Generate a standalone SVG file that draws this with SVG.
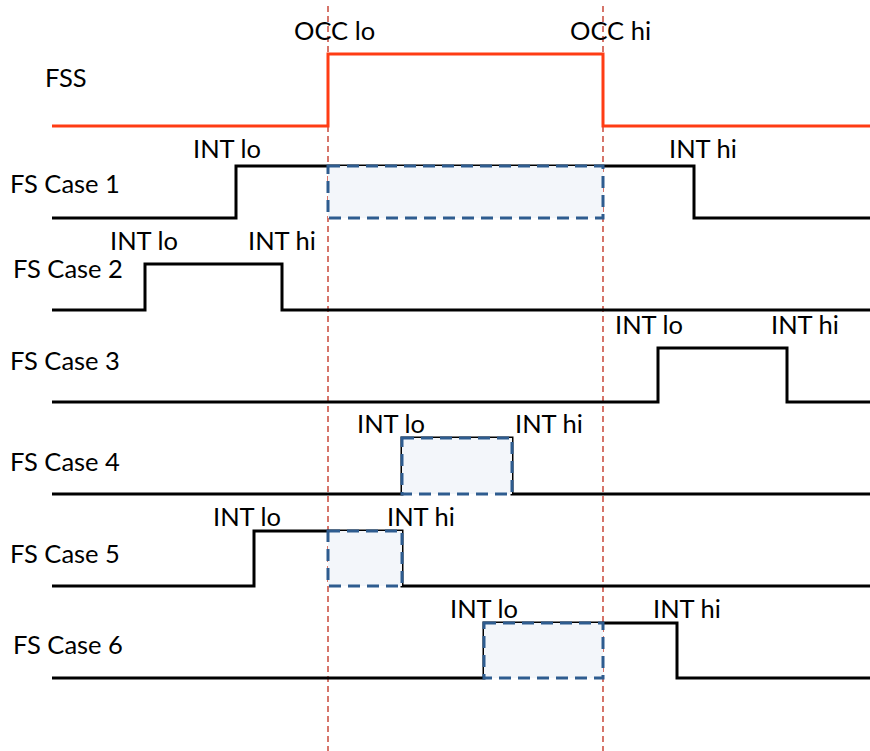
<svg xmlns="http://www.w3.org/2000/svg" width="870" height="751" viewBox="0 0 870 751">
<style>
text{font-family:Lato,"Liberation Sans",sans-serif;font-size:25.5px;fill:#000}
.guide{stroke:#c9483a;stroke-width:1.5;stroke-dasharray:6 4;fill:none}
.wave{stroke:#000;stroke-width:3;fill:none;stroke-linejoin:miter}
.fss{stroke:#ff3c14;stroke-width:3;fill:none}
.ov{stroke:#2e5c8f;stroke-width:3;stroke-dasharray:12 7;fill:#f3f6fa}
</style>
<rect width="870" height="751" fill="#fff"/>
<g id="connectors">
<line class="guide" x1="328" y1="6" x2="328" y2="751"/>
<line class="guide" x1="603" y1="6" x2="603" y2="751"/>
</g>
<g id="fss">
<text x="45" y="87">FSS</text>
<polyline class="fss" points="52,126 328,126 328,54 603,54 603,126 870,126"/>
<text x="294" y="40">OCC lo</text>
<text x="570" y="40">OCC hi</text>
</g>
<g id="case1">
<text x="10" y="193">FS Case 1</text>
<polyline class="wave" points="52,218 236,218 236,166 694,166 694,218 870,218"/>
<rect class="ov" x="328" y="166" width="275" height="52"/>
<text x="193" y="158">INT lo</text>
<text x="669" y="158">INT hi</text>
</g>
<g id="case2">
<text x="13" y="278">FS Case 2</text>
<polyline class="wave" points="52,310 145,310 145,264 282,264 282,310 870,310"/>
<text x="110" y="250">INT lo</text>
<text x="248" y="250">INT hi</text>
</g>
<g id="case3">
<text x="10" y="370">FS Case 3</text>
<polyline class="wave" points="52,402 658,402 658,348 787,348 787,402 870,402"/>
<text x="615" y="334">INT lo</text>
<text x="771" y="334">INT hi</text>
</g>
<g id="case4">
<text x="10" y="471">FS Case 4</text>
<polyline class="wave" points="52,494 402,494 402,438 512,438 512,494 870,494"/>
<rect class="ov" x="402" y="438" width="110" height="56"/>
<text x="357" y="433">INT lo</text>
<text x="515" y="433">INT hi</text>
</g>
<g id="case5">
<text x="10" y="563">FS Case 5</text>
<polyline class="wave" points="52,586 254,586 254,531 402,531 402,586 870,586"/>
<rect class="ov" x="328" y="531" width="74" height="55"/>
<text x="213" y="526">INT lo</text>
<text x="387" y="526">INT hi</text>
</g>
<g id="case6">
<text x="13" y="654">FS Case 6</text>
<polyline class="wave" points="52,678 484,678 484,623 677,623 677,678 870,678"/>
<rect class="ov" x="484" y="623" width="119" height="55"/>
<text x="450" y="618">INT lo</text>
<text x="653" y="618">INT hi</text>
</g>
</svg>
